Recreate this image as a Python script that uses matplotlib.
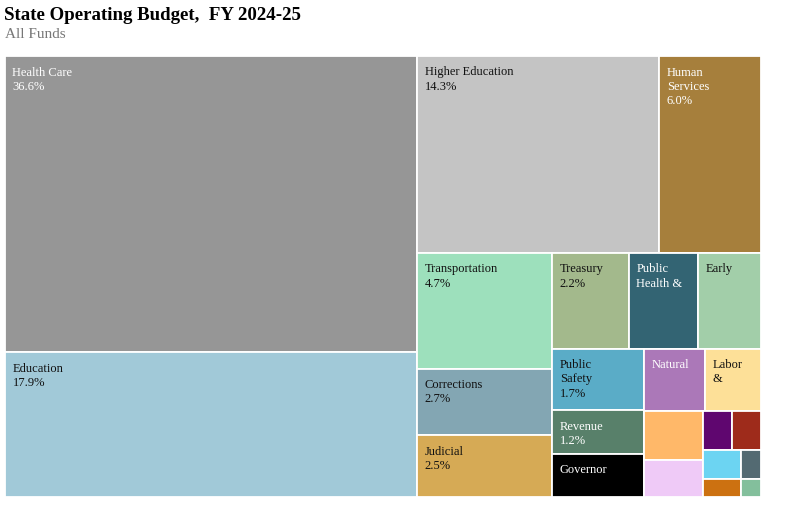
import matplotlib
matplotlib.use("Agg")
import matplotlib.pyplot as plt
from matplotlib.patches import Rectangle

plt.rcParams['font.family'] = ['Liberation Serif', 'DejaVu Serif']

# budget share by area (percent of all funds), in display order
labels = ["Health Care", "Education", "Higher Education", "Human\nServices",
          "Transportation", "Corrections", "Judicial",
          "Treasury", "Public\nHealth &", "Early",
          "Public\nSafety", "Revenue", "Governor",
          "Natural", "Labor\n&",
          "", "", "", "", "", "", "", ""]
values = [36.6, 17.9, 14.3, 6.0,
          4.7, 2.7, 2.5,
          2.2, 2.0, 1.8,
          1.7, 1.2, 1.2,
          1.15, 1.05,
          0.86, 0.65, 0.34, 0.34, 0.33, 0.2, 0.17, 0.11]
show_pct = [True, True, True, True,
            True, True, True,
            True, False, False,
            True, True, False,
            False, False,
            False, False, False, False, False, False, False, False]
colors = ["#969696", "#a1c9d8", "#c4c4c4", "#a67f3c",
          "#9de0bc", "#83a6b3", "#d6aa55",
          "#a3b98c", "#336473", "#a2cea9",
          "#5aacc7", "#58806a", "#000000",
          "#ab78b8", "#fde098",
          "#ffb869", "#efcaf7", "#5f066f", "#9e2b1b",
          "#6cd4f2", "#cc7111", "#536a72", "#83bf9c"]
white_text = ["#969696", "#a67f3c", "#336473", "#58806a", "#000000", "#ab78b8"]


def squarify(vals, x0, y0, x1, y1, ratio=1.618034):
    # d3-style squarified treemap
    out = [None] * len(vals)
    total = sum(vals)
    i0 = 0
    n = len(vals)
    while i0 < n:
        dx, dy = x1 - x0, y1 - y0
        i1 = i0
        s = vals[i1]
        i1 += 1
        mn = mx = s
        alpha = max(dy / dx, dx / dy) / (total * ratio)
        beta = s * s * alpha
        best = max(mx / beta, beta / mn)
        while i1 < n:
            v = vals[i1]
            s2 = s + v
            mn2, mx2 = min(mn, v), max(mx, v)
            beta = s2 * s2 * alpha
            r = max(mx2 / beta, beta / mn2)
            if r > best:
                break
            s, mn, mx, best = s2, mn2, mx2, r
            i1 += 1
        if dx < dy:
            h = dy * s / total
            xx = x0
            for k in range(i0, i1):
                w = dx * vals[k] / s
                out[k] = (xx, y0, w, h)
                xx += w
            y0 += h
        else:
            w = dx * s / total
            yy = y0
            for k in range(i0, i1):
                h = dy * vals[k] / s
                out[k] = (x0, yy, w, h)
                yy += h
            x0 += w
        total -= s
        i0 = i1
    return out


fig = plt.figure(figsize=(8.06, 5.13), dpi=100)
ax = fig.add_axes([0, 0, 1, 1])
ax.set_xlim(0, 806)
ax.set_ylim(513, 0)
ax.axis('off')

rects = squarify(values, 5, 56, 761, 497)
for (x, y, w, h), lab, v, sp, c in zip(rects, labels, values, show_pct, colors):
    ax.add_patch(Rectangle((x, y), w, h, facecolor=c, edgecolor='white', linewidth=1.3))
    if lab:
        txt = lab + (f"\n{v:.1f}%" if sp else "")
        tc = 'white' if c in white_text else '#111111'
        ax.text(x + 7.5, y + 10.5, txt, fontsize=9, color=tc, va='top', ha='left',
                linespacing=1.25)

ax.text(4, 6.5, "State Operating Budget,  FY 2024-25", fontsize=13.6,
        fontweight='bold', va='top', ha='left')
ax.text(5, 28, "All Funds", fontsize=11, color='#777777', va='top', ha='left')

fig.savefig("out.png", dpi=100)
